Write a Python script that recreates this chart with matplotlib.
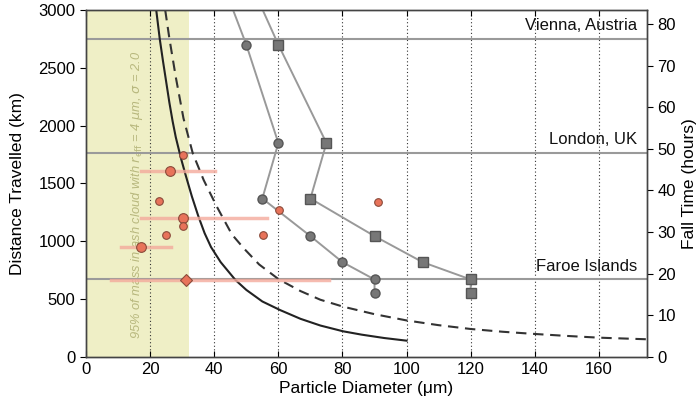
import matplotlib
matplotlib.use('Agg')
import matplotlib.pyplot as plt

plt.rcParams['font.family'] = ['Liberation Sans', 'DejaVu Sans']

# theoretical fall-out curves
solid_d = [21.9, 23.0, 24.0, 25.0, 26.0, 27.0, 28.0, 29.6, 31.0, 33.0, 35.0, 37.0, 39.0, 42.0,
           46.6, 50.0, 55.0, 60.6, 66.9, 73.1, 80.2, 86.0, 93.0, 100.0]
solid_km = [3000, 2750, 2560, 2380, 2200, 2040, 1900, 1720, 1580, 1390, 1220, 1070, 950, 820,
            666, 580, 480, 405, 330, 272, 222, 193, 164, 141]
dashed_d = [24.7, 26.0, 28.0, 30.4, 33.3, 36.7, 40.8, 45.5, 49.2, 54.0, 60.1, 66.9, 73.1, 80.2,
            90.0, 100.0, 110.0, 120.0, 130.0, 140.0, 150.0, 160.0, 175.0]
dashed_km = [3000, 2755, 2420, 2064, 1761, 1530, 1300, 1060, 940, 800, 672, 570, 495, 435,
             370, 316, 275, 242, 218, 199, 182, 167, 153]

# model runs (gray)
circ_d = [39, 50, 60, 55, 70, 80, 90, 90]
circ_km = [3500, 2700, 1850, 1370, 1045, 820, 670, 550]
sq_d = [47, 60, 75, 70, 90, 105, 120, 120]
sq_km = [3500, 2700, 1850, 1370, 1045, 820, 670, 550]

# observations (orange)
obs_big_d = [26.2, 30.1, 17.2]
obs_big_km = [1608, 1199, 951]
obs_big_lo = [17.2, 17.2, 10.8]
obs_big_hi = [40.1, 56.5, 26.5]
obs_small_d = [30.1, 22.9, 30.1, 25.1, 55.2, 60.2, 91.2]
obs_small_km = [1746, 1346, 1135, 1052, 1052, 1268, 1343]
faroe_obs_d = 31.2
faroe_obs_km = 666
faroe_obs_lo, faroe_obs_hi = 7.7, 75.7

places = ['Vienna, Austria', 'London, UK', 'Faroe Islands']
place_km = [2750, 1762, 670]

fig = plt.figure(figsize=(6.96, 4.07), dpi=100)
ax = fig.add_axes([0.1236, 0.1229, 0.8060, 0.8525])

ax.axvspan(0, 32, color='#efefc6', zorder=0, lw=0)
ax.text(15.9, 1400, r'95% of mass in ash cloud with $r_{\rm eff}$ = 4 $\mu$m, $\sigma$ = 2.0',
        rotation=90, ha='center', va='center', fontsize=9.3, style='italic',
        color='#b8b87e', zorder=1)

for xg in range(20, 175, 20):
    ax.axvline(xg, color='#333333', linestyle=(0, (1, 2.2)), linewidth=0.8, zorder=1)

for name, km in zip(places, place_km):
    ax.axhline(km, color='#9a9a9a', linewidth=1.5, zorder=2)
    ax.text(172, km + 50, name, ha='right', va='bottom', fontsize=12, color='#111111', zorder=6)

ax.plot(solid_d, solid_km, color='#222222', linewidth=1.5, zorder=3)
ax.plot(dashed_d, dashed_km, color='#333333', linewidth=1.5, dashes=(5, 3.2), zorder=3)

ax.plot(circ_d, circ_km, color='#999999', linewidth=1.4, marker='o', markersize=6.5,
        markerfacecolor='#777777', markeredgecolor='#555555', zorder=4)
ax.plot(sq_d, sq_km, color='#999999', linewidth=1.4, marker='s', markersize=6.5,
        markerfacecolor='#777777', markeredgecolor='#555555', zorder=4)

for d, km, lo, hi in zip(obs_big_d, obs_big_km, obs_big_lo, obs_big_hi):
    ax.plot([lo, hi], [km, km], color='#f4aa9c', linewidth=2.5, alpha=0.8, zorder=4.5)
ax.plot([faroe_obs_lo, faroe_obs_hi], [faroe_obs_km, faroe_obs_km], color='#f4aa9c',
        linewidth=2.5, alpha=0.8, zorder=4.5)

ax.plot(obs_big_d, obs_big_km, linestyle='none', marker='o', markersize=7,
        markerfacecolor='#e8735a', markeredgecolor='#8a4a3a', markeredgewidth=0.8, zorder=5)
ax.plot(obs_small_d, obs_small_km, linestyle='none', marker='o', markersize=5.5,
        markerfacecolor='#e8735a', markeredgecolor='#8a4a3a', markeredgewidth=0.8, zorder=5)
ax.plot([faroe_obs_d], [faroe_obs_km], linestyle='none', marker='D', markersize=6.5,
        markerfacecolor='#e8735a', markeredgecolor='#8a4a3a', markeredgewidth=0.8, zorder=5)

ax.set_xlim(0, 175)
ax.set_ylim(0, 3000)
ax.set_xticks(range(0, 161, 20))
ax.set_yticks(range(0, 3001, 500))
ax.tick_params(axis='x', direction='in', top=True, length=4, labelsize=12)
ax.tick_params(axis='y', direction='out', length=4, labelsize=12)
ax.set_xlabel('Particle Diameter (μm)', fontsize=12.5, labelpad=3)
ax.set_ylabel('Distance Travelled (km)', fontsize=12.5)
ax.yaxis.set_label_coords(-0.108, 0.5)

ax2 = ax.twinx()
ax2.set_ylim(0, 83.33)
ax2.set_yticks(range(0, 81, 10))
ax2.tick_params(axis='y', direction='out', length=4, labelsize=12)
ax2.set_ylabel('Fall Time (hours)', fontsize=12.5)

for a in (ax, ax2):
    for s in a.spines.values():
        s.set_color('#444444')
        s.set_linewidth(1.0)

fig.savefig('out.png', dpi=100)
